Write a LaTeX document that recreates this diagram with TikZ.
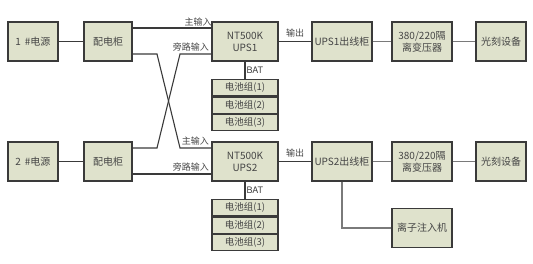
\documentclass[tikz,border=0pt]{standalone}
\usepackage{fontspec}
\setmainfont{TeX Gyre Heros}
\newfontfamily\cjk{Noto Sans CJK SC}
\definecolor{boxfill}{HTML}{DFE2CC}
\definecolor{boxline}{HTML}{3A3A3A}
\definecolor{txt}{HTML}{454545}
\definecolor{lightline}{HTML}{7A7A7A}
\begin{document}
\begin{tikzpicture}[x=1pt,y=-1pt,
  blk/.style={draw=boxline,fill=boxfill,line width=1.1pt,minimum width=#1,minimum height=39pt,inner sep=0pt,align=center,font=\cjk\fontsize{10}{12}\selectfont,text=txt},
  blk/.default=50pt,
  bat/.style={draw=boxline,fill=boxfill,line width=1.1pt,minimum width=66pt,minimum height=16.3pt,inner sep=0pt,font=\cjk\fontsize{9.5}{10}\selectfont,text=txt},
  wire/.style={draw=boxline,line width=1.1pt},
  gwire/.style={draw=lightline,line width=1.1pt},
  lab/.style={font=\cjk\fontsize{9}{10}\selectfont,text=txt,inner sep=1pt}]
\useasboundingbox (0,0) rectangle (533,263);
% row 1
\node[blk=50pt] (src1) at (33,41.5) {1 \,\#电源};
\node[blk=48pt] (pd1) at (108,41.5) {配电柜};
\node[blk=66pt] (ups1) at (245,41.5) {NT500K\\UPS1};
\node[blk=60pt] (out1) at (342,41.5) {UPS1出线柜};
\node[blk=60pt] (tr1) at (422,41.5) {380/220隔\\离变压器};
\node[blk=50pt] (lk1) at (501,41.5) {光刻设备};
\node[bat,anchor=north] (b11) at (245,79) {电池组(1)};
\node[bat,anchor=north] (b12) at (b11.south) {电池组(2)};
\node[bat,anchor=north] (b13) at (b12.south) {电池组(3)};
% row 2
\node[blk=50pt] (src2) at (33,161.5) {2 \,\#电源};
\node[blk=48pt] (pd2) at (108,161.5) {配电柜};
\node[blk=66pt] (ups2) at (245,161.5) {NT500K\\UPS2};
\node[blk=60pt] (out2) at (342,161.5) {UPS2出线柜};
\node[blk=60pt] (tr2) at (422,161.5) {380/220隔\\离变压器};
\node[blk=50pt] (lk2) at (501,161.5) {光刻设备};
\node[bat,anchor=north] (b21) at (245,199) {电池组(1)};
\node[bat,anchor=north] (b22) at (b21.south) {电池组(2)};
\node[bat,anchor=north] (b23) at (b22.south) {电池组(3)};
\node[blk=60pt] (ion) at (422,228) {离子注入机};
% coordinates for crossing wires
\coordinate (a1) at (157,54);
\coordinate (a2) at (180,148);
\coordinate (c1) at (157,148);
\coordinate (c2) at (180,54);
% wires row 1
\draw[wire] (src1) -- (pd1);
\draw[wire] (pd1.east |- 0,28) -- (ups1.west |- 0,28) node[lab,pos=0.83,above] {主输入};
\draw[wire] (pd1.east |- a1) -- (a1) -- (a2) -- (ups2.west |- a2);
\draw[wire] (pd2.east |- c1) -- (c1) -- (c2) -- (ups1.west |- c2);
\node[lab,anchor=south east] at (210,52) {旁路输入};
\node[lab,anchor=south east] at (210,146) {主输入};
\draw[wire] (ups1) -- (out1) node[lab,midway,above,yshift=3pt] {输出};
\draw[gwire] (out1) -- (tr1);
\draw[gwire] (tr1) -- (lk1);
\draw[wire] (ups1.south) -- (b11.north) node[lab,midway,right,font=\fontsize{9}{10}\selectfont] {BAT};
% row 2
\draw[wire] (src2) -- (pd2);
\draw[wire] (pd2.east |- 0,174) -- (ups2.west |- 0,174);
\node[lab,anchor=south east] at (210,172) {旁路输入};
\draw[wire] (ups2) -- (out2) node[lab,midway,above,yshift=3pt] {输出};
\draw[gwire] (out2) -- (tr2);
\draw[gwire] (tr2) -- (lk2);
\draw[wire] (ups2.south) -- (b21.north) node[lab,midway,right,font=\fontsize{9}{10}\selectfont] {BAT};
\draw[gwire] (out2.south) -- (out2.south |- ion.west) -- (ion.west);
\end{tikzpicture}
\end{document}
